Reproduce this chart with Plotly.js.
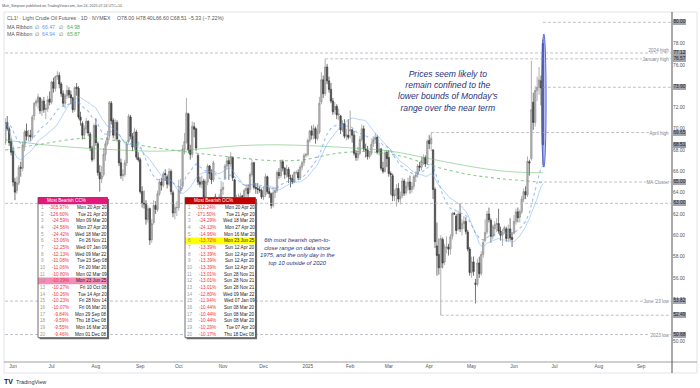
<!DOCTYPE html>
<html><head><meta charset="utf-8">
<script src="https://cdn.plot.ly/plotly-3.0.1.min.js"></script>
<style>html,body{margin:0;padding:0;background:#fff;}#chart{width:700px;height:388px;}</style>
</head><body><div id="chart"></div>
<script>
// ---------------- DATA ----------------
const startDate = '2024-05-28';
const O = [
68.7,70.6,70.0,68.8,67.9,65.0,64.2,64.9,66.4,66.3, 68.5,69.8,69.3,69.4,69.2,71.2,72.4,72.5,72.9,71.7,
72.6,71.8,71.9,72.8,72.5,74.4,73.8,74.9,75.0,74.2, 73.3,72.4,73.1,73.6,73.2,72.9,71.8,73.9,73.8,71.1,
70.5,69.4,70.0,70.7,69.5,68.2,67.2,70.3,68.6,65.9, 65.3,65.7,67.6,68.6,69.3,72.4,70.8,69.4,70.6,68.9,
66.8,65.6,65.7,66.8,68.8,71.1,69.3,68.3,69.7,67.3, 67.1,64.1,63.0,63.0,61.5,62.5,59.6,61.2,62.8,62.4,
63.9,65.0,64.7,65.8,65.5,64.8,66.0,64.0,62.1,62.6, 62.6,64.2,64.6,68.1,68.8,71.4,68.0,67.6,70.2,70.0,
67.5,65.0,64.8,65.1,63.6,65.0,66.5,65.8,65.2,63.6, 62.4,62.3,63.6,64.3,65.4,66.5,67.0,66.7,67.3,65.2,
63.0,63.1,63.4,63.7,62.0,64.2,64.4,64.3,65.7,66.8, 64.5,64.4,64.3,64.2,63.6,63.8,65.5,64.1,63.9,62.8,
64.0,64.2,65.9,65.6,66.9,66.3,65.7,66.2,65.4,65.3, 65.0,65.9,65.9,65.4,66.4,66.8,67.5,67.6,68.9,69.8,
69.4,70.0,69.1,69.7,72.5,74.6,73.3,75.8,74.5,73.7, 72.6,71.8,72.1,71.3,71.2,69.9,70.5,69.3,69.4,69.8,
69.9,69.4,67.7,67.3,67.7,69.0,70.0,68.1,68.0,67.4, 67.7,68.6,69.0,69.2,67.8,68.1,66.3,66.0,67.8,67.3,
65.8,65.6,63.7,63.8,64.4,63.4,63.7,65.1,64.0,64.6, 65.0,64.3,64.6,65.5,65.7,66.5,66.4,67.0,67.3,66.8,
68.9,68.6,68.0,64.3,59.0,58.2,57.0,59.6,57.5,58.9, 58.9,58.7,59.9,62.05,61.8,60.6,62.0,60.6,61.1,61.3,
60.3,58.7,56.5,57.5,55.5,55.4,57.4,56.4,58.2,59.5, 60.3,62.0,61.4,59.9,60.6,61.0,61.1,60.4,60.0,60.4,
60.6,59.7,60.6,59.8,60.2,61.3,62.2,61.7,62.2,63.4, 64.1,63.8,66.9,67.2,72.5,70.6,73.6,73.9,74.5,78.00];
const H = [
71.0,71.2,70.2,69.1,68.3,65.4,65.5,66.6,66.9,68.8, 69.9,70.5,69.9,69.9,71.3,72.5,72.8,73.3,73.0,72.8,
73.0,72.3,73.1,73.5,74.5,74.8,75.0,75.4,75.3,74.4, 73.6,73.3,74.1,73.9,73.6,73.0,74.0,74.3,74.0,71.6,
70.7,70.3,71.0,70.8,69.7,68.4,70.5,71.0,68.8,66.6, 66.5,68.2,68.9,69.8,72.6,72.6,71.0,70.9,70.8,69.0,
67.2,66.2,67.1,68.8,71.4,71.3,69.6,70.1,69.9,67.8, 67.3,64.6,64.2,63.3,62.8,62.6,61.5,63.3,63.2,64.2,
65.3,65.4,66.0,66.2,65.7,66.3,66.2,64.2,62.9,63.2, 65.2,65.3,68.5,69.6,72.9,71.5,68.5,70.7,70.6,70.1,
67.7,65.5,65.6,65.3,65.2,66.7,66.6,66.2,67.0,63.9, 62.9,63.9,65.1,65.0,66.7,67.3,67.4,67.8,67.4,65.3,
63.8,63.9,64.0,63.8,64.4,64.8,64.8,65.9,67.1,66.9, 64.9,64.9,64.6,64.4,64.6,65.8,65.6,64.5,64.0,64.5,
64.5,66.1,66.3,67.1,67.1,66.4,66.6,66.4,65.7,65.7, 66.0,66.1,66.2,66.6,67.0,67.7,67.7,69.1,69.9,70.3,
70.4,70.2,70.4,73.0,75.3,75.0,76.57,76.1,74.9,74.3, 72.9,72.5,72.3,71.9,71.3,70.8,70.9,70.0,70.9,71.7,
70.0,69.8,68.0,68.3,69.3,70.4,70.3,68.6,68.4,67.9, 68.9,69.3,69.6,69.4,68.7,68.2,66.9,68.0,68.0,68.0,
66.0,65.8,64.3,64.8,64.9,64.1,65.4,65.3,65.0,65.4, 65.6,65.0,65.7,66.0,66.7,66.9,67.4,67.6,67.5,69.0,
69.4,69.65,68.1,64.5,61.2,59.7,60.0,59.8,59.2,59.9, 59.2,60.1,62.2,62.2,62.0,62.3,63.0,61.5,61.8,61.7,
60.5,58.9,58.0,58.0,55.9,57.8,58.0,58.5,59.6,61.5, 62.3,62.6,61.6,61.0,61.3,61.6,62.5,60.8,60.6,60.9,
60.8,61.0,61.6,60.3,61.9,62.5,62.6,62.4,63.7,64.4, 64.6,67.4,67.1,76.4,73.4,74.0,74.9,75.8,75.0,78.40];
const L = [
68.5,69.8,68.4,67.5,64.6,63.3,63.9,64.7,65.5,66.0, 67.9,68.9,68.8,68.9,69.0,70.8,72.1,71.9,71.4,71.2,
71.5,70.9,71.6,72.2,72.3,73.4,73.5,74.6,73.8,73.0, 72.1,71.9,72.8,72.9,72.3,71.5,71.6,73.1,70.9,70.3,
69.0,69.0,69.6,69.3,67.9,66.9,67.0,68.4,65.6,64.1, 64.9,65.5,67.0,68.4,69.0,70.4,69.1,68.9,68.8,66.5,
65.3,65.1,65.5,66.5,68.6,69.0,67.9,68.0,67.1,66.9, 63.9,62.6,62.5,61.0,61.2,59.1,59.3,61.0,62.0,62.2,
63.7,64.2,64.5,65.1,64.4,64.6,63.8,61.7,61.5,61.8, 62.3,63.9,64.3,67.6,68.6,67.7,67.1,67.3,69.2,67.9,
64.7,64.5,64.4,63.4,63.3,64.7,65.3,64.8,65.0,61.7, 61.8,62.0,63.4,63.8,65.2,66.2,65.2,66.4,65.1,62.8,
62.6,62.8,62.9,61.8,61.9,63.6,63.5,64.0,65.5,64.3, 63.9,63.9,64.0,63.4,63.3,63.6,63.9,63.5,62.5,62.6,
63.5,64.0,65.3,65.4,66.0,65.3,65.4,64.9,64.5,64.8, 64.9,65.7,65.2,65.2,66.1,66.5,67.3,67.4,68.7,69.0,
69.0,68.6,68.9,69.5,72.3,72.9,73.1,74.2,73.4,72.4, 71.3,71.4,70.9,70.8,69.5,69.7,69.1,68.9,69.0,69.1,
68.7,67.5,67.0,67.0,67.5,68.8,67.9,67.3,67.1,67.2, 67.5,68.3,68.6,67.6,67.5,66.1,65.8,65.9,66.4,65.5,
63.8,63.2,63.2,62.7,63.1,62.9,63.5,63.7,63.8,64.2, 63.9,64.0,64.3,65.0,65.4,66.0,66.1,66.6,66.4,66.6,
68.1,67.9,63.4,58.8,56.2,56.3,52.49,56.9,57.2,58.3, 58.1,58.2,59.6,61.9,60.1,60.4,60.3,60.0,60.6,60.1,
58.5,56.2,56.0,56.2,53.6,55.2,56.0,56.2,57.9,59.3, 60.1,61.2,59.3,59.6,59.9,60.3,60.2,59.5,59.0,60.2,
59.4,59.4,59.5,58.9,60.1,61.0,61.2,61.2,62.0,63.1, 63.4,63.6,65.6,67.0,69.9,70.2,72.6,73.2,72.2,66.60];
const C = [
70.6,70.0,68.7,67.8,65.0,64.05,64.9,66.35,66.3,68.5, 69.7,69.3,69.4,69.25,71.1,72.4,72.6,73.0,71.7,72.6,
71.8,71.9,72.7,72.5,74.4,73.8,74.9,75.0,74.2,73.3, 72.4,73.1,73.6,73.2,72.9,71.8,73.85,73.8,71.1,70.8,
69.4,70.0,70.7,69.6,68.2,67.1,70.3,68.7,65.9,65.3, 65.6,67.6,68.6,69.2,72.5,70.75,69.4,70.6,69.05,66.8,
65.6,65.7,66.8,68.6,71.2,69.3,68.3,69.7,67.35,67.1, 64.1,63.0,62.95,61.5,62.5,59.55,61.1,62.8,62.45,63.9,
65.0,64.7,65.75,65.7,64.8,66.0,64.1,62.1,62.6,62.6, 64.2,64.5,68.1,68.8,71.5,68.0,67.6,70.25,69.96,68.2,
65.0,64.8,65.1,63.6,65.0,66.5,65.8,65.2,66.8,62.4, 62.2,63.6,64.3,64.5,66.5,67.0,66.7,67.4,65.4,63.0,
63.1,63.4,63.7,62.0,64.2,64.4,63.9,65.7,66.8,64.5, 64.4,64.3,64.2,63.6,63.7,65.5,64.1,63.9,62.8,64.0,
64.2,65.9,65.6,66.9,66.3,65.7,66.2,65.5,65.3,65.0, 65.9,65.9,65.4,66.4,66.8,67.5,67.6,68.9,69.8,69.4,
70.05,69.1,69.7,72.4,74.6,73.3,75.8,74.5,73.7,72.6, 71.6,72.1,71.3,71.4,69.9,70.5,69.3,69.4,69.2,69.9,
69.4,67.7,67.3,67.7,69.0,70.0,68.1,68.0,67.4,67.7, 68.55,68.95,69.2,67.8,68.1,66.3,66.0,67.75,67.2,65.8,
65.7,63.7,63.8,64.4,63.4,63.65,65.1,63.95,64.6,65.0, 64.3,64.6,65.5,65.65,66.5,66.4,67.0,67.3,66.7,68.85,
68.6,69.1,64.3,59.4,58.1,56.95,59.7,57.4,58.9,58.9, 58.7,59.85,62.05,62.0,60.45,62.0,60.6,61.1,61.3,60.35,
58.7,56.5,57.5,56.6,55.4,57.4,56.4,58.2,59.3,60.25, 62.0,61.45,59.9,60.8,61.0,61.1,60.4,60.0,60.3,60.7,
59.7,60.6,59.75,59.6,61.3,62.2,61.65,62.2,63.4,64.1, 63.8,66.95,66.8,71.8,70.6,73.6,73.9,74.6,73.84,68.51];

// green (200-period) ribbon lines: bar index -> value
const greenSolidIdx = [0,20,40,60,80,100,120,140,160,180,200,220,240,260,279];
const greenSolidVal = [68.95,68.5,68.2,68.0,67.9,68.1,68.4,68.5,68.4,68.2,67.9,67.2,66.5,66.0,65.87];
const greenDotIdx = [0,20,40,55,75,100,120,140,155,172,189,206,224,241,258,279];
const greenDotVal = [68.0,68.6,69.1,68.95,68.3,67.7,67.3,67.0,67.1,67.7,67.85,67.4,66.4,65.7,65.3,64.98];
const MA_LEN = 25;

// axis ticks (labels hidden under price boxes in the reference are left out)
const xTickDates = ['2024-06-03','2024-07-01','2024-08-01','2024-09-03','2024-10-01','2024-11-01','2024-12-02','2025-01-02','2025-02-03','2025-03-03','2025-04-01','2025-05-01','2025-06-02','2025-07-01','2025-08-01','2025-09-02'];
const xTickText = ['Jun','Jul','Aug','Sep','Oct','Nov','Dec','2025','Feb','Mar','Apr','May','Jun','Jul','Aug','Sep'];
const yTicks = [50,54,56,58,60,62,64,66,68,70,72,76,78];

// horizontal levels
const levelPrices = [80.00, 77.12, 76.57, 73.90, 69.65, 65.00, 63.00, 53.82, 52.49, 50.68];
const levelLabels = ['', '2024 high', 'January high', '', 'April high', 'MA Cluster', '', "June '23 low", '', '2023 low'];
const levelFrom   = ['2025-06-23', null, '2025-01-15', '2025-06-23', '2025-04-02', '2025-06-19', null, null, '2025-04-09', null];

// legend texts
const headerText = 'Matt_Simpson published on TradingView.com, Jun 24, 2025 07:24 UTC+10';
const symbolText = 'CL1! · Light Crude Oil Futures · 1D · NYMEX';
const ribbon1 = ['66.47','64.98'];
const ribbon2 = ['64.94','65.87'];

// tables
const ccHeader = 'Most Bearish CC%';
const ccPct = ['-305.97%','-126.60%','-24.59%','-24.56%','-24.42%','-13.06%','-12.25%','-12.13%','-11.08%','-11.06%','-10.80%','-10.29%','-10.27%','-10.26%','-10.23%','-10.07%','-9.84%','-9.59%','-9.55%','-9.46%'];
const ccDates = ['Mon 20 Apr 20','Tue 21 Apr 20','Mon 09 Mar 20','Mon 27 Apr 20','Wed 18 Mar 20','Fri 26 Nov 21','Wed 07 Jan 09','Wed 09 Mar 22','Tue 23 Sep 08','Fri 20 Mar 20','Mon 02 Mar 09','Mon 23 Jun 25','Fri 10 Oct 08','Tue 14 Apr 20','Fri 28 Nov 14','Fri 06 Mar 20','Mon 29 Sep 08','Thu 18 Dec 08','Mon 16 Mar 20','Mon 01 Dec 08'];
const ocHeader = 'Most Bearish OC%';
const ocPct = ['-312.24%','-171.50%','-24.29%','-24.13%','-14.96%','-13.72%','-13.39%','-13.39%','-13.39%','-13.39%','-13.01%','-13.01%','-13.01%','-12.80%','-11.94%','-10.44%','-10.44%','-10.44%','-10.29%','-10.17%'];
const ocDates = ['Mon 20 Apr 20','Tue 21 Apr 20','Wed 18 Mar 20','Mon 27 Apr 20','Mon 16 Mar 20','Mon 23 Jun 25','Sun 12 Apr 20','Sun 12 Apr 20','Sun 12 Apr 20','Sun 12 Apr 20','Sun 28 Nov 21','Sun 28 Nov 21','Sun 28 Nov 21','Wed 09 Mar 22','Wed 07 Jan 09','Sun 08 Mar 20','Sun 08 Mar 20','Sun 08 Mar 20','Tue 07 Apr 20','Thu 18 Dec 08'];

const note1 = ['Prices seem likely to','remain confined to the',"lower bounds of Monday's",'range over the near term'];
const note2 = ['6th most bearish open-to-','close range on data since','1975, and the only day in the','top 10 outside of 2020'];

// ---------------- BUILD ----------------
function weekdays(start, n){const out=[];const d=new Date(start+'T00:00:00Z');while(out.length<n){const w=d.getUTCDay();if(w!==0&&w!==6)out.push(d.toISOString().slice(0,10));d.setUTCDate(d.getUTCDate()+1);}return out;}
const dates = weekdays(startDate, C.length);
function sma(a,n){return a.map((_,i)=>{const s=Math.max(0,i-n+1);let t=0;for(let j=s;j<=i;j++)t+=a[j];return t/(i-s+1);});}
function ema(a,n){const k=2/(n+1);let e=a[0];return a.map((v,i)=>{e=i?v*k+e*(1-k):v;return e;});}

const F = 'Liberation Sans, Arial, sans-serif';
const PL=5, PR=672, PT=14, PB=362;
const px = x => (x-PL)/(PR-PL);
const py = y => (PB-y)/(PB-PT);
const XR = ['2024-05-27 20:00','2025-09-24'];

const traces = [
 {type:'candlestick', x:dates, open:O, high:H, low:L, close:C,
  increasing:{line:{color:'#8e8e8e',width:0.7},fillcolor:'#bcbcbc'},
  decreasing:{line:{color:'#3a3a3a',width:0.7},fillcolor:'#555555'},
  whiskerwidth:0, hoverinfo:'skip'},
 {type:'scatter', mode:'lines', x:greenSolidIdx.map(i=>dates[i]), y:greenSolidVal, line:{color:'rgba(102,187,106,0.55)',width:1,shape:'spline'}, hoverinfo:'skip'},
 {type:'scatter', mode:'lines', x:greenDotIdx.map(i=>dates[i]), y:greenDotVal, line:{color:'rgba(76,175,80,0.65)',width:1.1,dash:'dot',shape:'spline'}, hoverinfo:'skip'},
 {type:'scatter', mode:'lines', x:dates, y:sma(C,MA_LEN), line:{color:'rgba(110,170,248,0.5)',width:1}, hoverinfo:'skip'},
 {type:'scatter', mode:'lines', x:dates, y:ema(C,MA_LEN), line:{color:'rgba(90,150,242,0.6)',width:1.1,dash:'dot'}, hoverinfo:'skip'}
];

const shapes = [];
const ann = [];
function T(x,y,text,size,color,o){return Object.assign({xref:'paper',yref:'paper',x:px(x),y:py(y),text:text,showarrow:false,xanchor:'left',yanchor:'middle',font:{family:F,size:size,color:color},borderpad:0,borderwidth:0},o||{});}

// frame and axis lines
shapes.push({type:'rect',xref:'paper',yref:'paper',x0:px(4),x1:px(697),y0:py(373),y1:py(12),line:{color:'#e0e3eb',width:1},fillcolor:'rgba(0,0,0,0)',layer:'below'});
shapes.push({type:'line',xref:'paper',yref:'paper',x0:px(4),x1:px(697),y0:py(362),y1:py(362),line:{color:'#a0a0a0',width:1},layer:'above'});
shapes.push({type:'line',xref:'paper',yref:'paper',x0:px(672),x1:px(672),y0:py(373),y1:py(12),line:{color:'#555',width:1},layer:'above'});

// level lines + labels + price boxes
levelPrices.forEach((p,k)=>{
  shapes.push({type:'line',xref:'x',yref:'y',x0:levelFrom[k]||XR[0],x1:XR[1],y0:p,y1:p,line:{color:'#b0b3bb',width:0.8,dash:'3px,2px'},layer:'above'});
  if(levelLabels[k]) ann.push({xref:'paper',yref:'y',x:px(670),y:p,text:levelLabels[k],showarrow:false,xanchor:'right',yanchor:'middle',yshift:(k===1?3:0),bgcolor:(k===1?'rgba(0,0,0,0)':'#fff'),font:{family:F,size:4.6,color:'#80838c'},borderpad:0.5,borderwidth:0});
  ann.push({xref:'paper',yref:'y',x:px(673),y:p,text:p.toFixed(2),showarrow:false,xanchor:'left',yanchor:'middle',bgcolor:'#a3a6ae',font:{family:F,size:4.8,color:'#1a1a1a'},borderpad:0.4,borderwidth:0});
});
const last = C.length-1;
ann.push({xref:'paper',yref:'y',x:px(673),y:C[last],text:C[last].toFixed(2),showarrow:false,xanchor:'left',yanchor:'middle',bgcolor:'#9a9da5',font:{family:F,size:4.8,color:'#1a1a1a'},borderpad:0.4,borderwidth:0});

// ellipse around the last candle
shapes.push({type:'circle',xref:'x',yref:'y',x0:'2025-06-20 08:00',x1:'2025-06-24 16:00',y0:66.4,y1:78.9,fillcolor:'rgba(92,110,225,0.4)',line:{color:'rgba(70,88,210,0.85)',width:1},layer:'above'});

// tables
function table(Lx, Rx, title, hdrColor, pcts, dts, hiRow, hiColor){
  const Ty=197.5, Hb=204.2, Bv=337.7, rh=6.67;
  shapes.push({type:'rect',xref:'paper',yref:'paper',x0:px(Lx+1.6),x1:px(Rx+1.6),y0:py(Bv+1.6),y1:py(Ty+1.6),fillcolor:'#6e6e6e',line:{width:0},layer:'above'});
  shapes.push({type:'rect',xref:'paper',yref:'paper',x0:px(Lx),x1:px(Rx),y0:py(Bv),y1:py(Ty),fillcolor:'#ffffff',line:{width:0},layer:'above'});
  shapes.push({type:'rect',xref:'paper',yref:'paper',x0:px(Lx),x1:px(Rx),y0:py(Hb),y1:py(Ty),fillcolor:hdrColor,line:{width:0},layer:'above'});
  const cy = r => 207.5 + r*rh;
  shapes.push({type:'rect',xref:'paper',yref:'paper',x0:px(Lx),x1:px(Rx),y0:py(cy(hiRow)+rh/2),y1:py(cy(hiRow)-rh/2),fillcolor:hiColor,line:{width:0},layer:'above'});
  shapes.push({type:'rect',xref:'paper',yref:'paper',x0:px(Lx),x1:px(Rx),y0:py(Bv),y1:py(Ty),fillcolor:'rgba(0,0,0,0)',line:{color:'#4a4a4a',width:0.8},layer:'above'});
  ann.push(T(Lx+28.5,(Ty+Hb)/2,title,4.6,'#ffffff',{xanchor:'center'}));
  pcts.forEach((p,r)=>{
    ann.push(T(Lx+4.5,cy(r),String(r+1),4.6,'#9a9a9a',{xanchor:'center'}));
    ann.push(T(Lx+31,cy(r),p,4.6,'#f23645',{xanchor:'right'}));
    ann.push(T(Rx-0.6,cy(r),dts[r],4.6,'#222222',{xanchor:'right'}));
  });
}
table(38, 107.5, ccHeader, '#e2187a', ccPct, ccDates, 11, '#f38db6');
table(185, 255.5, ocHeader, '#c00000', ocPct, ocDates, 5, '#ffff00');

// header and legend
ann.push(T(2,5.5,headerText,3.6,'#555'));
ann.push(T(7.3,18.3,symbolText,5.2,'#555'));
const chg = C[last]-C[last-1];
const ohlc = ['O'+O[last].toFixed(2),'H'+H[last].toFixed(2),'L'+L[last].toFixed(2),'C'+C[last].toFixed(2),(chg<0?'−':'+')+Math.abs(chg).toFixed(2)+' ('+(chg<0?'−':'+')+Math.abs(chg/C[last-1]*100).toFixed(2)+'%)'];
const ohlcX = [116.7,136,153.3,170,187.7];
ohlc.forEach((t,k)=>ann.push(T(ohlcX[k],18.3,t,5.2,'#555')));
[[ribbon1,26.7],[ribbon2,34]].forEach(([vals,y])=>{
  ann.push(T(7.3,y,'MA Ribbon',5.2,'#555'));
  ann.push(T(34.5,y,'∅',5.2,'#666'));
  ann.push(T(42.3,y,vals[0],5.2,'#5b9cf6'));
  ann.push(T(58.5,y,'∅',5.2,'#666'));
  ann.push(T(66.7,y,vals[1],5.2,'#4caf50'));
});

// notes
ann.push(T(448,90.5,'<i>'+note1.join('<br>')+'</i>',8.6,'#2b327a',{xanchor:'center',align:'center'}));
ann.push(T(297,251.5,'<i>'+note2.join('<br>')+'</i>',5.8,'#2b327a',{xanchor:'center',align:'center'}));

// footer logo
ann.push(T(4,381.5,'<b>TV</b>',7,'#131722'));
ann.push(T(15.6,381.5,'TradingView',5.5,'#333'));

const layout = {
  width:700, height:388, margin:{l:PL,r:700-PR,t:PT,b:388-PB,pad:0},
  paper_bgcolor:'#ffffff', plot_bgcolor:'#ffffff', showlegend:false,
  boxgap:0.3, boxgroupgap:0,
  xaxis:{type:'date',range:XR,rangebreaks:[{bounds:['sat','mon']}],rangeslider:{visible:false},
    showgrid:false,zeroline:false,showline:false,ticks:'',tickmode:'array',tickvals:xTickDates,ticktext:xTickText,
    tickfont:{family:F,size:4.8,color:'#555'}},
  yaxis:{side:'right',range:[48.10,80.78],showgrid:false,zeroline:false,showline:false,ticks:'',
    tickmode:'array',tickvals:yTicks,ticktext:yTicks.map(v=>v.toFixed(2)),tickfont:{family:F,size:4.8,color:'#555'}},
  shapes:shapes, annotations:ann
};
Plotly.newPlot('chart', traces, layout, {staticPlot:true, displayModeBar:false});
</script></body></html>
